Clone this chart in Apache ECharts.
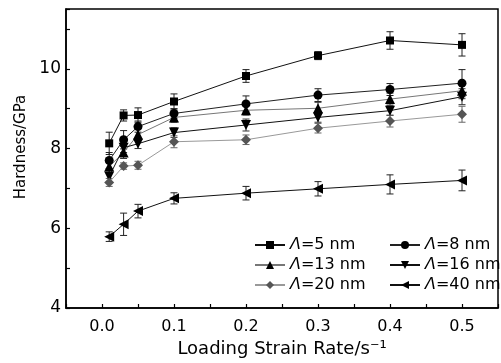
<!DOCTYPE html>
<html>
<head>
<meta charset="utf-8">
<script src="https://cdn.jsdelivr.net/npm/echarts@6/dist/echarts.min.js"></script>
<style>
  html, body { margin: 0; padding: 0; background: #fff; }
  #chart { width: 501px; height: 363px; }
</style>
</head>
<body>
<div id="chart"></div>
<script>
// strain rates (s^-1)
const rates = [0.01, 0.03, 0.05, 0.1, 0.2, 0.3, 0.4, 0.5];

// hardness (GPa) and error bars, one pair per modulation period
const h5 = [8.13, 8.83, 8.84, 9.18, 9.82, 10.33, 10.71, 10.6];
const e5 = [0.28, 0.14, 0.18, 0.19, 0.16, 0.1, 0.22, 0.28];
const h8 = [7.7, 8.22, 8.55, 8.88, 9.12, 9.34, 9.48, 9.64];
const e8 = [0.2, 0.23, 0.14, 0.12, 0.2, 0.16, 0.15, 0.34];
const h13 = [7.55, 7.9, 8.35, 8.78, 8.96, 9.01, 9.24, 9.45];
const e13 = [0.15, 0.15, 0.15, 0.12, 0.12, 0.15, 0.15, 0.2];
const h16 = [7.3, 8.02, 8.12, 8.4, 8.59, 8.78, 8.95, 9.3];
const e16 = [0.15, 0.12, 0.12, 0.12, 0.15, 0.12, 0.12, 0.2];
const h20 = [7.15, 7.56, 7.58, 8.17, 8.22, 8.51, 8.69, 8.86];
const e20 = [0.1, 0.08, 0.1, 0.15, 0.12, 0.12, 0.15, 0.2];
const h40 = [5.79, 6.1, 6.43, 6.75, 6.88, 6.99, 7.1, 7.2];
const e40 = [0.12, 0.28, 0.17, 0.14, 0.17, 0.18, 0.24, 0.26];

const names = ['Λ=5 nm', 'Λ=8 nm', 'Λ=13 nm', 'Λ=16 nm', 'Λ=20 nm', 'Λ=40 nm'];

const FONT = 'DejaVu Sans';

const groups = [
    { name: names[0], vals: h5, errs: e5, symbol: 'rect', size: 8, rotate: 0, line: '#111', fill: '#000', bar: '#222' },
    { name: names[1], vals: h8, errs: e8, symbol: 'circle', size: 9, rotate: 0, line: '#222', fill: '#000', bar: '#222' },
    { name: names[2], vals: h13, errs: e13, symbol: 'triangle', size: 10, rotate: 0, line: '#777', fill: '#000', bar: '#333' },
    { name: names[3], vals: h16, errs: e16, symbol: 'triangle', size: 10, rotate: 180, line: '#111', fill: '#000', bar: '#333' },
    { name: names[4], vals: h20, errs: e20, symbol: 'diamond', size: 10, rotate: 0, line: '#999', fill: '#555', bar: '#666' },
    { name: names[5], vals: h40, errs: e40, symbol: 'triangle', size: 10, rotate: 90, line: '#111', fill: '#000', bar: '#222' },
];

function errorBars(g) {
    return {
        type: 'custom',
        silent: true,
        z: 1,
        data: rates.map((r, i) => [r, g.vals[i] - g.errs[i], g.vals[i] + g.errs[i]]),
        renderItem: function (params, api) {
            const lo = api.coord([api.value(0), api.value(1)]);
            const hi = api.coord([api.value(0), api.value(2)]);
            const w = 3.5;
            const style = { stroke: g.bar, lineWidth: 1 };
            return {
                type: 'group',
                children: [
                    { type: 'line', shape: { x1: lo[0], y1: lo[1], x2: hi[0], y2: hi[1] }, style },
                    { type: 'line', shape: { x1: lo[0] - w, y1: lo[1], x2: lo[0] + w, y2: lo[1] }, style },
                    { type: 'line', shape: { x1: hi[0] - w, y1: hi[1], x2: hi[0] + w, y2: hi[1] }, style },
                ],
            };
        },
    };
}

const lineSeries = groups.map(g => ({
    name: g.name,
    type: 'line',
    z: 3,
    data: rates.map((r, i) => [r, g.vals[i]]),
    symbol: g.symbol,
    symbolSize: g.size,
    symbolRotate: g.rotate,
    showSymbol: true,
    lineStyle: { color: g.line, width: 1 },
    itemStyle: { color: g.fill },
}));

const legendBase = {
    orient: 'vertical',
    top: 232,
    itemWidth: 30,
    itemHeight: 10,
    itemGap: 4,
    textStyle: {
        fontFamily: FONT, fontSize: 16, color: '#000', lineHeight: 16,
        rich: { i: { fontFamily: FONT, fontSize: 16, fontStyle: 'italic', color: '#000' } },
    },
    formatter: n => n.replace('Λ', '{i|Λ}'),
};

const chart = echarts.init(document.getElementById('chart'), null, { renderer: 'canvas' });

chart.setOption({
    animation: false,
    backgroundColor: '#fff',
    grid: { left: 66, right: -3, top: 9, bottom: 51, show: true, borderColor: '#000', borderWidth: 1.5 },
    legend: [
        { ...legendBase, left: 249, data: [names[0], names[2], names[4]] },
        { ...legendBase, left: 384, data: [names[1], names[3], names[5]] },
    ],
    xAxis: {
        type: 'value',
        min: -0.05,
        max: 0.55,
        interval: 0.05,
        name: 'Loading Strain Rate/s⁻¹',
        nameLocation: 'middle',
        nameGap: 32,
        nameTextStyle: { fontFamily: FONT, fontSize: 18, color: '#000' },
        axisLine: { onZero: false, lineStyle: { color: '#000', width: 1.5 } },
        axisTick: { inside: true, length: 4, lineStyle: { color: '#000', width: 1.2 } },
        axisLabel: {
            fontFamily: FONT, fontSize: 16, color: '#000', margin: 11,
            formatter: v => {
                const t = v * 10;
                if (v < -1e-9 || v > 0.5 + 1e-9 || Math.abs(t - Math.round(t)) > 1e-6) return '';
                return v.toFixed(1);
            },
        },
        splitLine: { show: false },
    },
    yAxis: {
        type: 'value',
        min: 4,
        max: 11.5,
        interval: 1,
        axisLine: { onZero: false, lineStyle: { color: '#000', width: 1.5 } },
        axisTick: { inside: true, length: 4, lineStyle: { color: '#000', width: 1.2 } },
        axisLabel: {
            fontFamily: FONT, fontSize: 17, color: '#000', margin: 5,
            padding: [6, 0, 0, 0],
            formatter: v => (Math.abs(v % 2) < 1e-9 ? String(v) : ''),
        },
        splitLine: { show: false },
    },
    graphic: [{
        type: 'text',
        x: 21,
        y: 147,
        rotation: Math.PI / 2,
        style: {
            text: 'Hardness/GPa',
            fontFamily: FONT, fontSize: 15, fill: '#000',
            align: 'center', verticalAlign: 'middle',
        },
    }],
    series: [...groups.map(errorBars), ...lineSeries],
});
</script>
</body>
</html>
